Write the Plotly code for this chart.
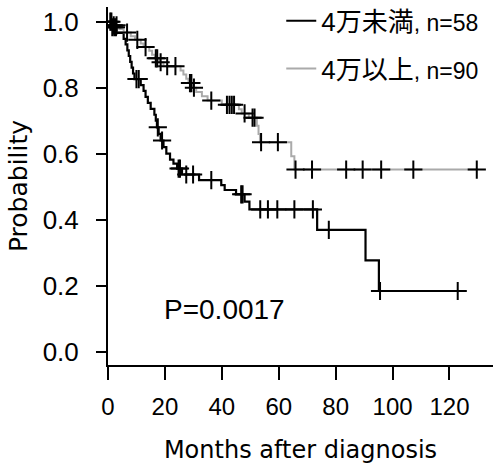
import numpy as np
import plotly.graph_objects as go

# ---- data ----
series_names = ["4万未満<span style='font-size:23px'>, n=58</span>",
                "4万以上<span style='font-size:23px'>, n=90</span>"]

# group 1 (black): step times and survival after each step
low_t = [0, 1.0, 3.0, 5.5, 6.2, 6.8, 7.3, 7.8, 8.3, 8.8, 9.3, 11.5, 12.5, 13.2, 14.0,
         15.0, 16.3, 16.8, 17.2, 17.8, 18.5, 19.5, 20.5, 21.8, 23.0, 24.3, 26.0,
         32.0, 39.8, 41.0, 45.0, 48.0, 49.7, 73.5, 90.5, 95.2]
low_s = [1.0, 0.983, 0.966, 0.948, 0.931, 0.913, 0.896, 0.878, 0.861, 0.843, 0.826,
         0.808, 0.790, 0.772, 0.754, 0.736, 0.718, 0.700, 0.680, 0.660, 0.640, 0.620,
         0.600, 0.582, 0.570, 0.555, 0.537, 0.520, 0.505, 0.490, 0.477, 0.455, 0.431,
         0.369, 0.277, 0.184]
low_cens = [1.5, 2.2, 2.8, 10.0, 10.8, 17.5, 19.0, 24.8, 25.3, 27.5, 29.9, 36.3,
            46.8, 47.3, 53.5, 56.2, 59.5, 65.5, 72.0, 77.6, 95.6, 122.9]

# group 2 (grey)
high_t = [0, 1.5, 4.0, 5.5, 8.0, 9.5, 11.5, 12.5, 14.5, 15.5, 16.5, 18.0, 19.5, 25.5,
          26.5, 27.5, 28.3, 29.8, 31.0, 33.0, 35.0, 40.0, 46.0, 47.0, 49.5, 52.3,
          52.9, 53.4, 64.4, 65.5]
high_s = [1.0, 0.989, 0.978, 0.967, 0.956, 0.945, 0.934, 0.923, 0.912, 0.900, 0.889,
          0.877, 0.865, 0.852, 0.840, 0.827, 0.814, 0.800, 0.787, 0.774, 0.761, 0.748,
          0.735, 0.722, 0.709, 0.685, 0.660, 0.635, 0.592, 0.552]
high_cens = [0.8, 1.2, 2.0, 3.0, 6.7, 10.3, 13.2, 16.8, 17.3, 18.5, 20.8, 23.7, 28.8,
             29.3, 30.2, 36.3, 41.8, 42.7, 43.5, 44.3, 48.0, 50.8, 51.5, 53.8, 59.7,
             65.9, 71.7, 83.7, 89.5, 96.0, 107.3, 129.6]

x_ticks = [0, 20, 40, 60, 80, 100, 120]
y_ticks = [0.0, 0.2, 0.4, 0.6, 0.8, 1.0]
p_text = "P=0.0017"


def surv_at(times, surv, t):
    idx = np.searchsorted(np.array(times), t, side="right") - 1
    return [surv[i] for i in idx]


fig = go.Figure()
colors = ["#000000", "#aaaaaa"]
widths = [2.2, 2.0]
for k, (t, s, c) in enumerate([(low_t, low_s, low_cens), (high_t, high_s, high_cens)]):
    xs = list(t) + [max(c)]
    ys = list(s) + [s[-1]]
    fig.add_trace(go.Scatter(
        x=xs, y=ys, mode="lines", line=dict(color=colors[k], width=widths[k], shape="hv"),
        name=series_names[k], legendgroup=f"g{k}", showlegend=True, hoverinfo="skip"))
for k, (t, s, c) in enumerate([(low_t, low_s, low_cens), (high_t, high_s, high_cens)]):
    fig.add_trace(go.Scatter(
        x=c, y=surv_at(t, s, c), mode="markers",
        marker=dict(symbol="cross-thin", size=13, color="black",
                    line=dict(color="black", width=2)),
        showlegend=False, hoverinfo="skip"))

fig.add_annotation(x=40.9, y=0.129, xref="x", yref="y", text=p_text, showarrow=False,
                   font=dict(family="Liberation Sans, Arial", size=28, color="black"),
                   xanchor="center", yanchor="middle")

tick_font = dict(family="Liberation Sans, Arial", size=24, color="black")
fig.update_layout(
    width=494, height=466,
    margin=dict(l=108, r=1, t=7, b=101, autoexpand=False),
    paper_bgcolor="white", plot_bgcolor="white",
    showlegend=True,
    legend=dict(x=0.45, y=1.027, xanchor="left", yanchor="top",
                traceorder="grouped", tracegroupgap=11,
                font=dict(family="Liberation Sans, Noto Sans CJK JP", size=26, color="black"),
                bgcolor="rgba(0,0,0,0)", borderwidth=0),
    xaxis=dict(range=[0, 135.3], tickvals=x_ticks, ticktext=[str(v) for v in x_ticks],
               automargin=False,
               showline=True, linecolor="black", linewidth=2, ticks="outside",
               ticklen=13, tickwidth=2, tickcolor="black", showgrid=False, zeroline=False,
               tickfont=tick_font, ticklabelstandoff=6,
               title=dict(text="Months after diagnosis", standoff=22,
                          font=dict(family="DejaVu Sans", size=24, color="black"))),
    yaxis=dict(range=[-0.0402, 1.0444], tickvals=y_ticks,
               ticktext=[f"{v:.1f}" for v in y_ticks],
               automargin=False,
               showline=True, linecolor="black", linewidth=2, ticks="outside",
               ticklen=10, tickwidth=2, tickcolor="black", showgrid=False, zeroline=False,
               tickfont=dict(family="Liberation Sans, Arial", size=26, color="black"),
               ticklabelstandoff=12,
               title=dict(text="Probability", standoff=8,
                          font=dict(family="DejaVu Sans", size=25, color="black"))),
)

fig.write_html("out.html", config={"displayModeBar": False},
               post_script="document.body.style.margin='0';")
